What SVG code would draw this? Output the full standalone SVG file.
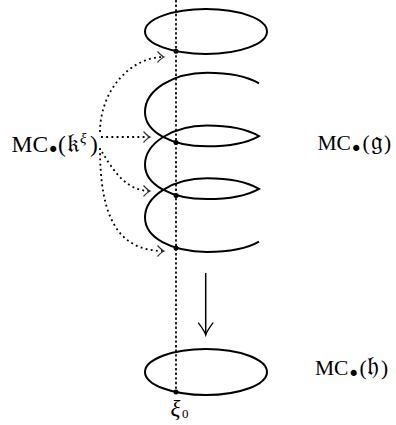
<svg xmlns="http://www.w3.org/2000/svg" width="396" height="425" viewBox="0 0 396 425">
<style>
.curve{fill:none;stroke:#000;stroke-width:2}
.dot{fill:#000}
.dotted{fill:none;stroke:#000;stroke-width:1.8;stroke-dasharray:1.9 3.3}
.vline{fill:none;stroke:#000;stroke-width:1.7;stroke-dasharray:2.4 2.2}
.solid{fill:none;stroke:#000;stroke-width:1.5}
.lbl{font-family:"Liberation Serif","DejaVu Serif","DejaVu Sans",serif;font-size:23.5px;fill:#000}
.lbl2{font-family:"Liberation Serif","DejaVu Serif","DejaVu Sans",serif;font-size:21.5px;fill:#000}
.bul{font-family:"DejaVu Sans",sans-serif;font-size:21px}
.frak{font-size:26px}
.sup{font-size:15px;font-style:italic}
.xi{font-family:"Liberation Serif","DejaVu Serif",serif;font-size:23px;font-style:italic;fill:#000}
.sub{font-size:13px;font-style:normal}
</style>
<defs>
<marker id="tipS" markerUnits="userSpaceOnUse" markerWidth="20" markerHeight="20" viewBox="-14 -10 16 20" refX="0" refY="0" orient="auto" overflow="visible">
<path d="M-12.3,-7.5 Q-4,-1.2 0,0 Q-4,1.2 -12.3,7.5" fill="none" stroke="#000" stroke-width="1.3" stroke-dasharray="none"/>
</marker>
<marker id="tipD" markerUnits="userSpaceOnUse" markerWidth="14" markerHeight="14" viewBox="-8 -7 10 14" refX="0" refY="0" orient="auto" overflow="visible">
<path d="M-6.5,-5.5 Q-2.4,-1 0,0 Q-2.4,1 -6.5,5.5" fill="none" stroke="#333" stroke-width="1.2" stroke-dasharray="none"/>
</marker>
</defs>
<rect width="396" height="425" fill="#fff"/>
<g id="ellipse-top">
<ellipse class="curve" cx="206" cy="31.5" rx="61" ry="22.5"/>
<circle class="dot" cx="176" cy="51.3" r="2.5"/>
</g>
<g id="helix">
<path class="curve" d="M259,83.3 C247,76.3 232,72.7 207,72.7 C172.8,72.7 145,90.3 145,112 C145,131.9 171,146.3 207,146.3 C232,146.3 247,143.1 259,136.1 C247,129.1 232,125.5 207,125.5 C172.8,125.5 145,143.1 145,164.8 C145,184.7 171,199.1 207,199.1 C232,199.1 247,195.9 259,188.9 C247,181.9 232,178.3 207,178.3 C172.8,178.3 145,195.9 145,217.6 C145,237.5 171,251.9 207,251.9 C232,251.9 247,248.7 259,241.7"/>
<circle class="dot" cx="176" cy="142.6" r="2.5"/>
<circle class="dot" cx="176" cy="195.6" r="2.5"/>
<circle class="dot" cx="176" cy="248" r="2.5"/>
</g>
<g id="ellipse-bottom">
<ellipse class="curve" cx="206" cy="372" rx="61" ry="23"/>
<circle class="dot" cx="176" cy="392" r="2.5"/>
</g>
<g id="connectors">
<path class="vline" d="M176,0 L176,392"/>
<path class="dotted" d="M100,132 C100,92 129,57 164,57" marker-end="url(#tipD)"/>
<path class="dotted" d="M101,137 L150,137" marker-end="url(#tipD)"/>
<path class="dotted" d="M102,152 C112,168 125,191 150,191" marker-end="url(#tipD)"/>
<path class="dotted" d="M100,148 C100,216 117,251 164,251" marker-end="url(#tipD)"/>
<path class="solid" d="M205.7,273 L205.7,335" marker-end="url(#tipS)"/>
</g>
<g id="label-k">
<text class="lbl" x="11.5" y="151.5">MC<tspan class="bul" x="47" dy="5.5">•</tspan><tspan x="58" dy="-5.5">(</tspan><tspan class="frak" x="67">𝔨</tspan><tspan class="sup" x="80" dy="-9">ξ</tspan><tspan x="90" dy="9">)</tspan></text>
</g>
<g id="label-g">
<text class="lbl2" x="317.5" y="150">MC<tspan class="bul" x="350" dy="5.5">•</tspan><tspan x="362.5" dy="-5.5">(</tspan><tspan class="frak" x="370.5">𝔤</tspan><tspan x="384">)</tspan></text>
</g>
<g id="label-h">
<text class="lbl2" x="315" y="375">MC<tspan class="bul" x="347.5" dy="5.5">•</tspan><tspan x="359.5" dy="-5.5">(</tspan><tspan class="frak" x="367">𝔥</tspan><tspan x="381">)</tspan></text>
</g>
<g id="label-xi0">
<text class="xi" x="170.5" y="416">ξ<tspan class="sub" x="182" dy="1.7">0</tspan></text>
</g>
</svg>
